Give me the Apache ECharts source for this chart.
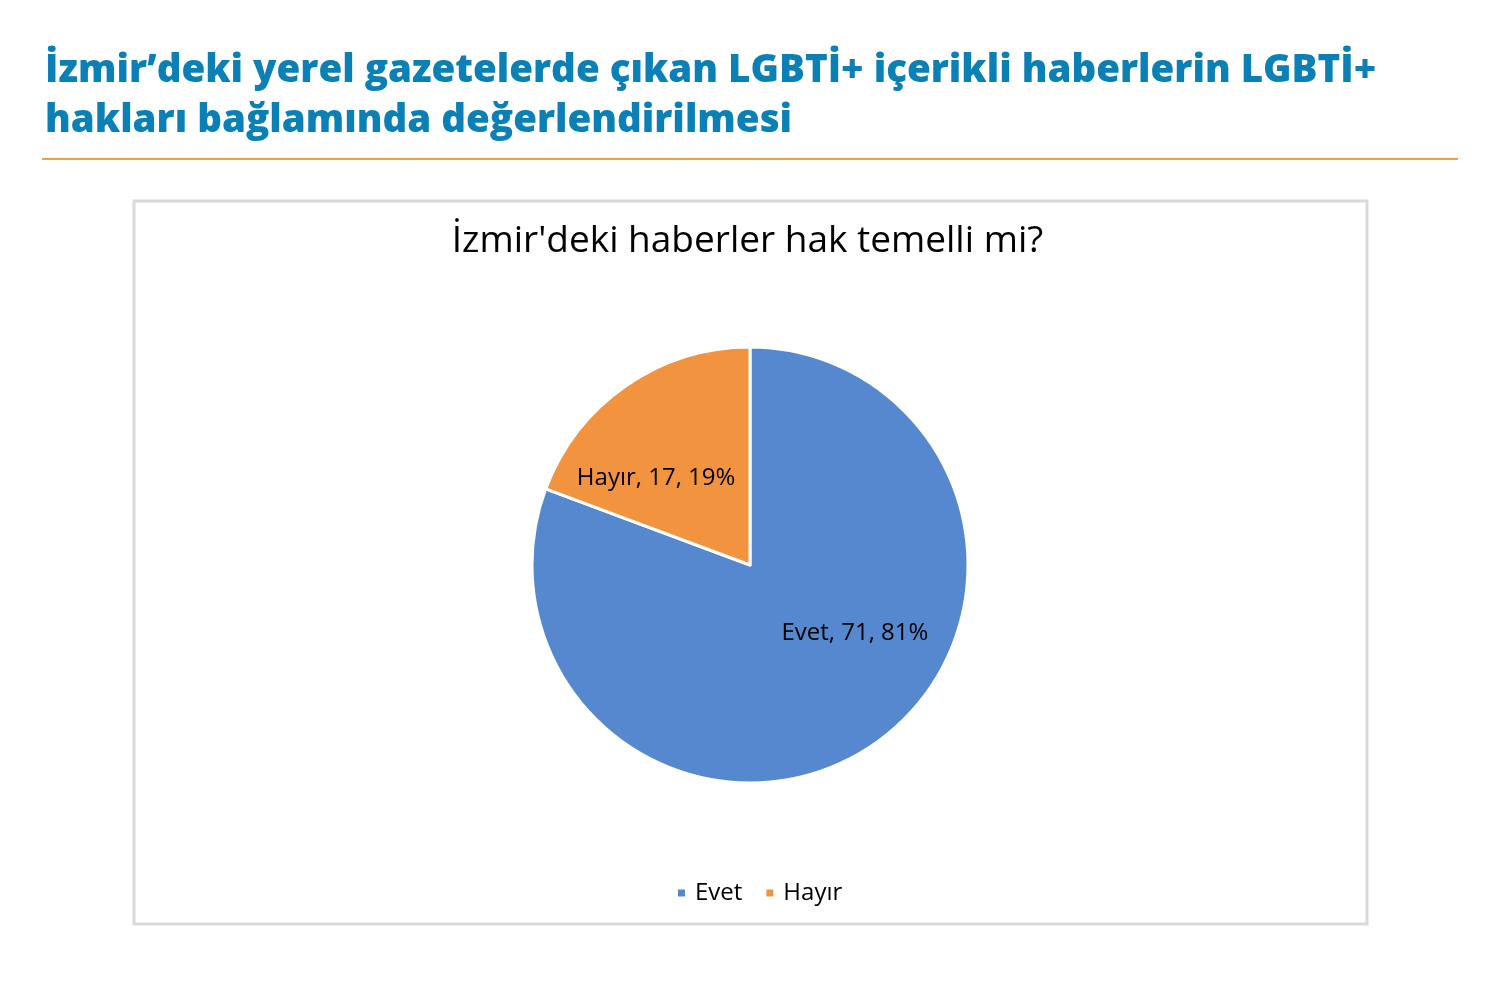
<!DOCTYPE html>
<html>
<head>
<meta charset="utf-8">
<script src="https://cdn.jsdelivr.net/npm/echarts@6/dist/echarts.min.js"></script>
<style>
  html, body { margin: 0; padding: 0; background: #fff; }
  #chart { width: 1495px; height: 981px; }
</style>
</head>
<body>
<div id="chart"></div>
<script>
// Chart data
const categories = ["Evet", "Hayır"];
const counts = [71, 17];
const sliceColors = ["#5588CE", "#F29340"];

const pageTitle = "İzmir’deki yerel gazetelerde çıkan LGBTİ+ içerikli haberlerin LGBTİ+\nhakları bağlamında değerlendirilmesi";
const chartTitle = "İzmir'deki haberler hak temelli mi?";

const total = counts.reduce((a, b) => a + b, 0);

// Excel puts the data labels a bit off the mid radius, nudge them (dx, dy)
const labelShift = [
  [41, -24],
  [-30, 5],
];

const myChart = echarts.init(document.getElementById("chart"));

const option = {
  backgroundColor: "#fff",
  animation: false,
  textStyle: { fontFamily: "'Open Sans', sans-serif" },
  title: [
    {
      text: pageTitle,
      left: 40,
      top: 41,
      textStyle: {
        fontFamily: "'Open Sans', sans-serif",
        fontWeight: 800,
        fontSize: 38.5,
        lineHeight: 50,
        color: "#0B80B6",
      },
    },
    {
      text: chartTitle,
      left: "center",
      top: 218,
      textStyle: {
        fontFamily: "'Open Sans', sans-serif",
        fontWeight: "normal",
        fontSize: 37,
        color: "#000",
      },
    },
  ],
  graphic: [
    {
      type: "line",
      shape: { x1: 42, y1: 159, x2: 1458, y2: 159 },
      style: { stroke: "#F0A33A", lineWidth: 2 },
    },
    {
      type: "rect",
      shape: { x: 134, y: 201, width: 1233, height: 723 },
      style: { fill: "none", stroke: "#D9D9D9", lineWidth: 3 },
      z: -1,
    },
  ],
  legend: {
    data: categories,
    left: 671,
    top: 876,
    icon: "rect",
    itemWidth: 9,
    itemHeight: 9,
    itemGap: 22,
    textStyle: {
      fontFamily: "'Open Sans', sans-serif",
      fontSize: 24,
      color: "#000",
      padding: [0, 0, 0, 4],
    },
  },
  series: [
    {
      type: "pie",
      center: [750, 565],
      radius: 218,
      startAngle: 90,
      clockwise: true,
      emphasis: { disabled: true },
      itemStyle: { borderColor: "#fff", borderWidth: 3 },
      label: {
        show: true,
        position: "inside",
        fontFamily: "'Open Sans', sans-serif",
        fontSize: 24,
        color: "#000",
        formatter: (p) =>
          `${p.name}, ${p.value}, ${Math.round((p.value / total) * 100)}%`,
      },
      labelLayout: (params) => ({
        dx: labelShift[params.dataIndex][0],
        dy: labelShift[params.dataIndex][1],
      }),
      data: categories.map((name, i) => ({
        name: name,
        value: counts[i],
        itemStyle: { color: sliceColors[i] },
      })),
    },
  ],
};

myChart.setOption(option);
</script>
</body>
</html>
